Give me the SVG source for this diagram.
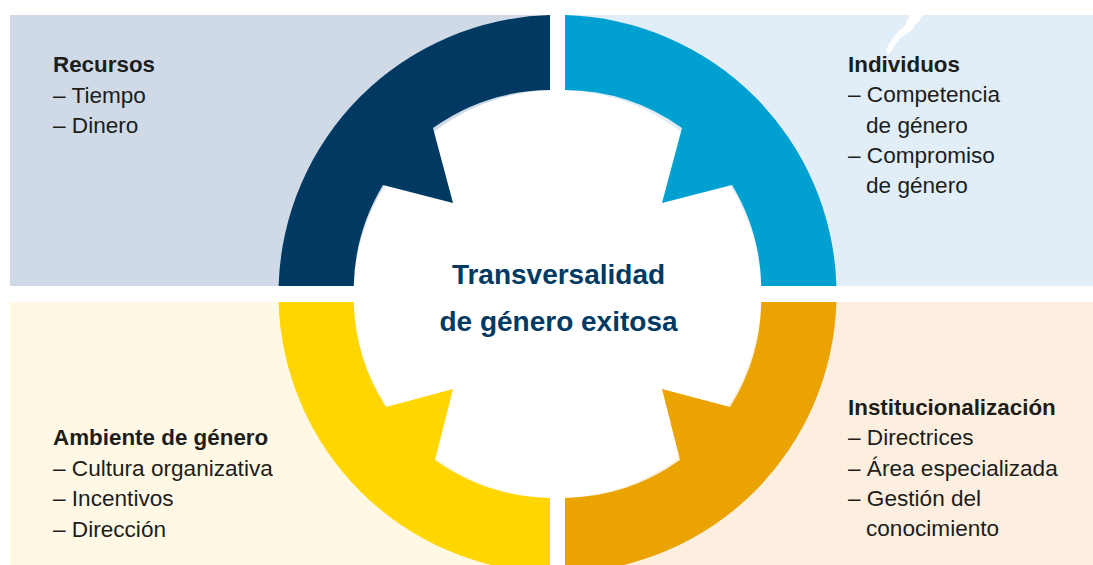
<svg xmlns="http://www.w3.org/2000/svg" width="1093" height="565" viewBox="0 0 1093 565">
  <style>
    .lbl { font-family: "Liberation Sans", Arial, sans-serif; font-size: 22.6px; fill: #1d1d1b; }
    .hd { font-weight: bold; font-size: 22.4px; }
    .ctr { font-family: "Liberation Sans", Arial, sans-serif; font-size: 28px; font-weight: bold; fill: #003a63; text-anchor: middle; }
  </style>
  <rect width="1093" height="565" fill="#ffffff"/>
  <g id="backgrounds">
    <rect x="10" y="15" width="540" height="271" fill="#d0dae7"/>
    <rect x="565" y="15" width="528" height="271" fill="#e1eef8"/>
    <rect x="10" y="302" width="540" height="263" fill="#fef8e5"/>
    <rect x="565" y="302" width="528" height="263" fill="#fcefdf"/>
    <path d="M910,15 L923,15 L920,20 L916,24 L912,30 L906,34 L900,38 L896,44 L892,50 L888,55 L886,50 L889,44 L893,38 L898,32 L904,27 L907,21 Z" fill="#ffffff"/>
  </g>
  <circle cx="557.5" cy="294" r="204" fill="#ffffff"/>
  <g id="recursos">
    <path d="M278.6,286 A279,279 0 0 1 550,15.1 L550,90.1 A204,204 0 0 0 433,128 L453,203 L383,185 A204,204 0 0 0 353.7,286 Z" fill="#003a62"/>
    <text class="lbl hd" x="53" y="72">Recursos</text>
    <text class="lbl" x="53" y="102.5">– Tiempo</text>
    <text class="lbl" x="53" y="133">– Dinero</text>
  </g>
  <g id="individuos">
    <path d="M836.4,286 A279,279 0 0 0 565,15.1 L565,90.1 A204,204 0 0 1 682,128 L662,203 L732,185 A204,204 0 0 1 761.3,286 Z" fill="#00a0d1"/>
    <text class="lbl hd" x="848" y="72">Individuos</text>
    <text class="lbl" x="848" y="102">– Competencia</text>
    <text class="lbl" x="866" y="132.5">de género</text>
    <text class="lbl" x="848" y="163">– Compromiso</text>
    <text class="lbl" x="866" y="193">de género</text>
  </g>
  <g id="ambiente">
    <path d="M278.6,302 A279,279 0 0 0 550,572.9 L550,497.9 A204,204 0 0 1 435,460 L453,389 L386,407 A204,204 0 0 1 353.7,302 Z" fill="#ffd600"/>
    <text class="lbl hd" x="53" y="445">Ambiente de género</text>
    <text class="lbl" x="53" y="475.5">– Cultura organizativa</text>
    <text class="lbl" x="53" y="506">– Incentivos</text>
    <text class="lbl" x="53" y="536.5">– Dirección</text>
  </g>
  <g id="institucionalizacion">
    <path d="M836.4,302 A279,279 0 0 1 565,572.9 L565,497.9 A204,204 0 0 0 680,460 L662,389 L730,407 A204,204 0 0 0 761.3,302 Z" fill="#eaa300"/>
    <text class="lbl hd" x="848" y="415">Institucionalización</text>
    <text class="lbl" x="848" y="445">– Directrices</text>
    <text class="lbl" x="848" y="475.5">– Área especializada</text>
    <text class="lbl" x="848" y="506">– Gestión del</text>
    <text class="lbl" x="866" y="536">conocimiento</text>
  </g>
  <g id="center">
    <text class="ctr" x="558.5" y="284">Transversalidad</text>
    <text class="ctr" x="558.5" y="331">de género exitosa</text>
  </g>
  <g id="connectors"></g>
</svg>
